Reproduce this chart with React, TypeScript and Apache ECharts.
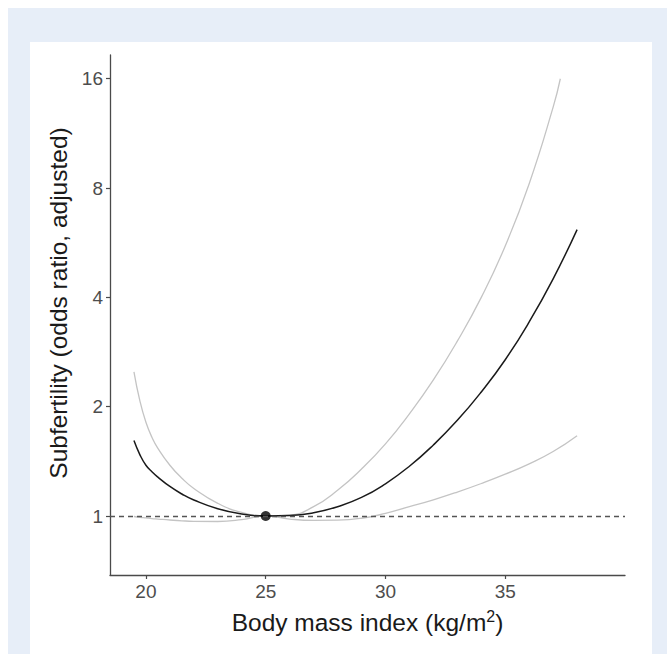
import React, { useEffect, useRef } from "react";
import * as echarts from "echarts";

// Body mass index (kg/m2) sample positions
const bmi = [19.5, 19.75, 20, 20.25, 20.5, 21, 21.5, 22, 23, 24, 25, 26, 27, 28, 29, 30, 31, 32, 33, 34, 35, 36, 37, 38];
// Adjusted odds ratio (central estimate)
const orEstimate = [1.613, 1.474, 1.38, 1.324, 1.28, 1.206, 1.15, 1.107, 1.047, 1.013, 1.0, 1.003, 1.021, 1.061, 1.125, 1.227, 1.371, 1.569, 1.834, 2.196, 2.694, 3.423, 4.5, 6.147];
// Lower confidence limit
const orLower = [0.997, 0.992, 0.988, 0.984, 0.981, 0.975, 0.97, 0.967, 0.966, 0.977, 1.0, 0.981, 0.973, 0.974, 0.986, 1.017, 1.061, 1.108, 1.164, 1.229, 1.304, 1.392, 1.505, 1.664];
// Upper confidence limit (ends where it reaches the top of the scale)
const bmiUpper = [19.5, 19.75, 20, 20.25, 20.5, 21, 21.5, 22, 23, 24, 25, 26, 27, 28, 29, 30, 31, 32, 33, 34, 35, 36, 37, 37.3];
const orUpper = [2.495, 2.071, 1.812, 1.648, 1.536, 1.38, 1.271, 1.191, 1.084, 1.023, 1.0, 1.006, 1.061, 1.177, 1.347, 1.58, 1.912, 2.37, 3.031, 4.0, 5.541, 8.225, 13.36, 16.0];
// Reference point
const referenceBmi = 25;
const referenceOr = 1;
// Axis ticks and ranges
const xTicks = [20, 25, 30, 35];
const yTicks = [1, 2, 4, 8, 16];
const xRange = [18.5, 40];
const yRange = [0.688, 18.6];

const FONT = "'Liberation Sans', Arial, Helvetica, sans-serif";

export default function App() {
  const ref = useRef<HTMLDivElement>(null);
  useEffect(() => {
    if (!ref.current) return;
    const chart = echarts.init(ref.current, undefined, { renderer: "svg" });
    const lg = (v: number) => Math.log2(v);
    const pairs = (xs: number[], ys: number[]) => xs.map((x, i) => [x, lg(ys[i])]);
    chart.setOption({
      animation: false,
      backgroundColor: "#ffffff",
      textStyle: { fontFamily: FONT },
      grid: { left: 80, top: 13, right: 27, bottom: 79, containLabel: false },
      xAxis: {
        type: "value",
        min: xRange[0],
        max: xRange[1],
        name: "Body mass index (kg/m{sup|2})",
        nameLocation: "middle",
        nameGap: 33,
        nameTextStyle: {
          fontSize: 24.5,
          color: "#1a1a1a",
          fontFamily: FONT,
          rich: { sup: { fontSize: 16, color: "#1a1a1a", fontFamily: FONT, padding: [0, 0, 12, 0] } },
        },
        axisLine: { show: true, onZero: false, lineStyle: { color: "#4a4a4a", width: 1.3 } },
        axisTick: { show: true, inside: false, length: 4, customValues: xTicks, lineStyle: { color: "#4a4a4a", width: 1.2 } },
        axisLabel: { customValues: xTicks, fontSize: 19, color: "#4d4d4d", margin: 7, fontFamily: FONT },
        splitLine: { show: false },
      },
      yAxis: {
        type: "value",
        min: lg(yRange[0]),
        max: lg(yRange[1]),
        name: "Subfertility (odds ratio, adjusted)",
        nameLocation: "middle",
        nameGap: 28,
        nameTextStyle: { fontSize: 24.5, color: "#1a1a1a", fontFamily: FONT, padding: [0, 0, 0, 24] },
        axisLine: { show: true, onZero: false, lineStyle: { color: "#4a4a4a", width: 1.3 } },
        axisTick: { show: true, length: 4, customValues: yTicks.map(lg), lineStyle: { color: "#4a4a4a", width: 1.2 } },
        axisLabel: {
          customValues: yTicks.map(lg),
          fontSize: 19,
          color: "#4d4d4d",
          margin: 7,
          fontFamily: FONT,
          formatter: (v: number) => String(Math.round(Math.pow(2, v))),
        },
        splitLine: { show: false },
      },
      series: [
        {
          type: "line",
          name: "upper",
          data: pairs(bmiUpper, orUpper),
          smooth: 0.5,
          showSymbol: false,
          lineStyle: { color: "#c4c4c4", width: 1.3 },
          z: 2,
        },
        {
          type: "line",
          name: "lower",
          data: pairs(bmi, orLower),
          smooth: 0.5,
          showSymbol: false,
          lineStyle: { color: "#c4c4c4", width: 1.3 },
          z: 2,
          markLine: {
            silent: true,
            symbol: "none",
            label: { show: false },
            lineStyle: { color: "#555555", width: 1.3, type: [5, 4] },
            data: [{ yAxis: lg(referenceOr) }],
          },
        },
        {
          type: "line",
          name: "estimate",
          data: pairs(bmi, orEstimate),
          smooth: 0.5,
          showSymbol: false,
          lineStyle: { color: "#1a1a1a", width: 1.5 },
          z: 3,
        },
        {
          type: "scatter",
          name: "reference",
          data: [[referenceBmi, lg(referenceOr)]],
          symbolSize: 10,
          itemStyle: { color: "#000000" },
          z: 4,
        },
      ],
    });
    return () => chart.dispose();
  }, []);

  return (
    <div style={{ position: "fixed", left: 0, top: 0, width: 667, height: 654, background: "#ffffff" }}>
      <div style={{ position: "absolute", left: 8, top: 8, width: 659, height: 646, background: "#e7eef8" }} />
      <div ref={ref} style={{ position: "absolute", left: 30, top: 42, width: 622, height: 612 }} />
    </div>
  );
}
